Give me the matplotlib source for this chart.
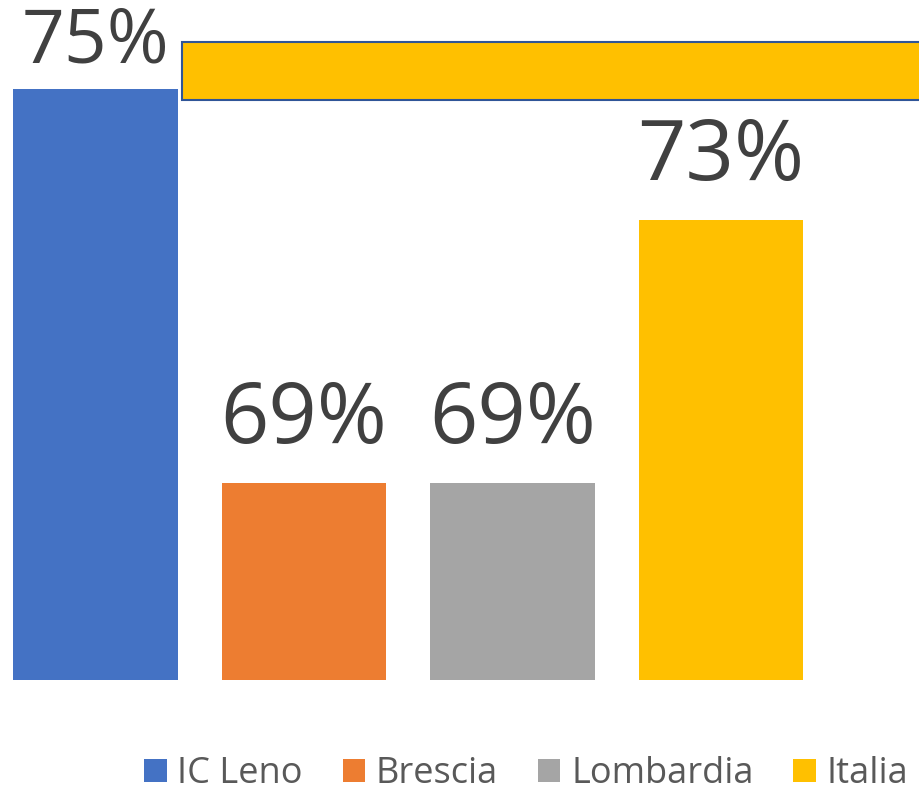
import matplotlib.pyplot as plt
from matplotlib.patches import Rectangle, Patch

categorie = ["IC Leno", "Brescia", "Lombardia", "Italia"]
valori = [75, 69, 69, 73]
etichette = ["75%", "69%", "69%", "73%"]
colori = ["#4472C4", "#ED7D31", "#A5A5A5", "#FFC000"]

plt.rcParams['font.family'] = ['Open Sans', 'DejaVu Sans']

fig = plt.figure(figsize=(9.2, 7.91), dpi=100)
ax = fig.add_axes([0, 0.1403, 1, 0.8597])

x = list(range(len(categorie)))
barre = ax.bar(x, valori, width=0.79, color=colori, bottom=0)
ax.set_ylim(66, 76.355)
ax.set_xlim(-0.458, 3.954)
ax.axis('off')

# etichette: quella della prima barra e' schiacciata e rimpicciolita nell'area
scost = [26, 40, 40, 40]
dimens = [54, 61, 61, 61]
for xi, v, t, s, d in zip(x, valori, etichette, scost, dimens):
    ax.annotate(t, (xi, v), xytext=(0, s * 0.72), textcoords='offset points',
                ha='center', va='baseline', fontsize=d, color='#404040')

# riquadro giallo in alto
fig.patches.append(Rectangle((0.198, 0.8736), 0.85, 0.0727, transform=fig.transFigure,
                             facecolor='#FFC000', edgecolor='#2F5597', linewidth=1.5))

maniglie = [Patch(facecolor=c, label=n) for c, n in zip(colori, categorie)]
fig.legend(handles=maniglie, loc='center', bbox_to_anchor=(0.572, 0.021), ncol=4,
           frameon=False, fontsize=26, handlelength=0.62, handleheight=0.62,
           handletextpad=0.3, columnspacing=1.1, labelcolor='#595959',
           borderpad=0, borderaxespad=0)

fig.savefig('out.png', dpi=100)
